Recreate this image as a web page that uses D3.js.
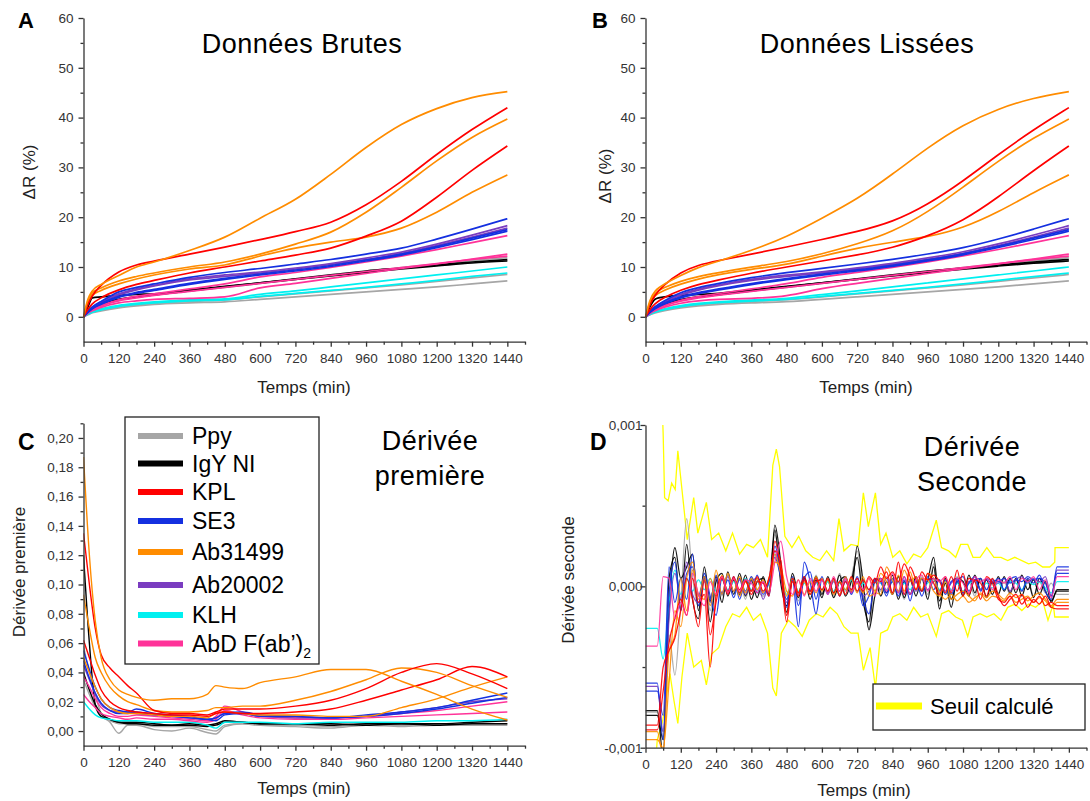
<!DOCTYPE html>
<html><head><meta charset="utf-8">
<script src="https://cdn.jsdelivr.net/npm/d3@7"></script>
<style>
body{margin:0;background:#fff}
svg{display:block}
text{font-family:"Liberation Sans",Arial,sans-serif}
</style>
</head><body>
<svg id="chart" width="1090" height="801"></svg>
<script>
// ---------- categories / legend ----------
const GROUPS = ["Ppy","IgY NI","KPL","SE3","Ab31499","Ab20002","KLH","AbD F(ab’)"];
const GROUP_COLORS = ["#a6a6a6","#000000","#ff0000","#1430e0","#ff8c00","#7a3cc0","#00f0f0","#ff3399"];
const THRESH_LABEL = "Seuil calculé";
const THRESH_COLOR = "#ffff00";

// ---------- tick labels ----------
const X_TICKS = [0,120,240,360,480,600,720,840,960,1080,1200,1320,1440];
const X_MINOR = [60,180,300,420,540,660,780,900,1020,1140,1260,1380,1500];
const AB_Y_TICKS = [0,10,20,30,40,50,60];
const AB_Y_MINOR = [5,15,25,35,45,55];
const C_Y_TICKS = [0,0.02,0.04,0.06,0.08,0.10,0.12,0.14,0.16,0.18,0.20];
const C_Y_MINOR = [0.01,0.03,0.05,0.07,0.09,0.11,0.13,0.15,0.17,0.19,0.21];
const D_Y_TICKS = [-10,0,10];     // in units of 1e-4
const D_Y_MINOR = [-5,5];
const D_UNIT = 1e-4;

// ---------- Panels A & B : ΔR (%) ----------
const T_AB = [0,15,30,60,120,180,240,360,480,600,720,840,960,1080,1200,1320,1440];
const AB_O1 = [0,3.5,5.2,6.5,8.3,10.0,11.0,13.3,16.0,19.8,23.6,28.6,34.0,38.6,41.8,44.0,45.2];
const AB_O2 = [0,3.0,4.8,5.8,7.2,8.1,8.8,10.0,11.0,12.6,14.6,17.0,21.0,26.0,31.3,36.0,39.7];
const AB_O3 = [0,2.8,4.3,5.3,6.6,7.6,8.4,9.6,10.4,12.2,13.8,15.0,16.0,17.8,21.0,25.0,28.5];
const AB_R1 = [0,2.5,4.2,6.3,9.0,10.4,11.2,12.6,14.0,15.5,17.1,19.0,22.5,27.2,32.6,37.6,42.0];
const AB_R2 = [0,1.5,2.6,3.8,5.4,6.5,7.3,8.8,10.0,11.2,12.4,13.8,16.2,19.2,24.0,29.4,34.3];
const AB_B1 = [0,1.2,2.0,3.1,5.0,5.9,6.6,7.9,8.9,9.7,10.6,11.5,12.6,13.8,15.6,17.6,19.7];
const AB_B2 = [0,1.0,1.7,2.7,4.1,4.9,5.5,6.7,7.7,8.6,9.4,10.3,11.4,12.6,14.1,15.8,17.5];
const AB_B3 = [0,0.9,1.6,2.5,3.9,4.7,5.3,6.5,7.5,8.4,9.2,10.1,11.2,12.4,13.9,15.5,17.2];
const AB_P1 = [0,1.1,1.9,3.0,4.6,5.6,6.3,7.6,8.4,9.0,9.8,10.7,11.8,13.0,14.6,16.4,18.3];
const AB_P2 = [0,1.0,1.8,2.9,4.4,5.4,6.2,7.4,8.1,8.8,9.6,10.5,11.5,12.7,14.3,16.0,17.8];
const AB_K1 = [0,0.8,1.4,2.2,3.4,4.1,4.6,5.6,6.6,8.0,8.9,9.9,11.0,12.2,13.5,14.9,16.3];
const AB_K2 = [0,0.7,1.2,1.9,2.8,3.2,3.5,3.7,4.0,5.8,6.7,7.7,8.7,9.7,10.6,11.6,12.6];
const AB_K3 = [0,0.8,1.4,2.2,3.2,3.8,4.3,5.1,5.9,6.7,7.5,8.3,9.1,9.9,10.7,11.5,12.2];
const AB_N1 = [0,1.0,1.8,2.6,3.5,4.0,4.4,5.2,6.0,6.8,7.6,8.4,9.2,9.8,10.4,11.0,11.5];
const AB_N2 = [0,2.0,3.8,4.0,4.3,4.5,4.6,5.4,6.1,6.8,7.5,8.2,8.9,9.6,10.2,10.8,11.2];
const AB_G1 = [0,0.9,1.6,2.4,3.4,4.0,4.4,5.2,5.9,6.7,7.5,8.3,9.1,9.9,10.6,11.3,11.9];
const AB_C1 = [0,0.6,1.0,1.6,2.3,2.7,3.0,3.4,3.6,4.5,5.2,6.0,6.8,7.6,8.4,9.2,10.0];
const AB_C2 = [0,0.5,0.9,1.4,2.1,2.5,2.8,3.2,3.4,4.1,4.7,5.3,5.9,6.6,7.3,8.1,8.8];
const AB_G2 = [0,0.5,0.9,1.4,2.0,2.4,2.7,3.1,3.4,4.0,4.6,5.2,5.8,6.4,7.1,7.8,8.5];
const AB_G3 = [0,0.4,0.8,1.2,1.8,2.2,2.5,2.8,3.0,3.5,4.0,4.5,5.0,5.5,6.0,6.6,7.2];
// [group index, values] in drawing order
const AB_SERIES = [[0,AB_G3],[0,AB_G2],[6,AB_C2],[6,AB_C1],[0,AB_G1],[1,AB_N2],[1,AB_N1],
  [7,AB_K3],[7,AB_K2],[7,AB_K1],[5,AB_P2],[5,AB_P1],[3,AB_B3],[3,AB_B2],[3,AB_B1],
  [4,AB_O3],[2,AB_R2],[4,AB_O2],[2,AB_R1],[4,AB_O1]];

// ---------- Panel C : first derivative ----------
const T_C = [0,20,40,60,90,120,150,180,240,300,360,420,450,480,540,600,720,840,960,1080,1200,1320,1440];
const C_O1 = [0.187,0.12,0.075,0.05,0.035,0.028,0.025,0.023,0.021,0.022,0.022,0.025,0.031,0.030,0.029,0.033,0.037,0.042,0.042,0.034,0.025,0.015,0.0075];
const C_O2 = [0.093,0.07,0.05,0.04,0.03,0.024,0.02,0.018,0.014,0.013,0.013,0.014,0.016,0.016,0.017,0.017,0.021,0.027,0.035,0.043,0.040,0.031,0.023];
const C_O3 = [0.05,0.04,0.03,0.022,0.016,0.013,0.012,0.012,0.011,0.010,0.010,0.009,0.012,0.013,0.012,0.011,0.011,0.010,0.010,0.016,0.022,0.030,0.037];
const C_R1 = [0.135,0.10,0.07,0.052,0.043,0.037,0.031,0.026,0.014,0.012,0.012,0.011,0.013,0.015,0.015,0.015,0.017,0.021,0.029,0.040,0.046,0.039,0.029];
const C_R2 = [0.062,0.05,0.038,0.028,0.02,0.016,0.014,0.013,0.012,0.011,0.011,0.010,0.012,0.013,0.012,0.012,0.013,0.015,0.021,0.028,0.035,0.044,0.037];
const C_B1 = [0.055,0.042,0.03,0.022,0.016,0.014,0.013,0.015,0.012,0.011,0.010,0.008,0.009,0.012,0.013,0.011,0.010,0.009,0.011,0.013,0.016,0.021,0.026];
const C_B2 = [0.048,0.036,0.026,0.019,0.014,0.012,0.012,0.013,0.011,0.010,0.009,0.008,0.007,0.011,0.012,0.010,0.010,0.009,0.010,0.012,0.015,0.019,0.023];
const C_P1 = [0.045,0.035,0.025,0.018,0.014,0.013,0.013,0.012,0.011,0.010,0.009,0.008,0.009,0.012,0.012,0.010,0.009,0.009,0.010,0.013,0.016,0.020,0.022];
const C_K1 = [0.037,0.03,0.022,0.016,0.012,0.010,0.010,0.011,0.010,0.009,0.008,0.007,0.010,0.017,0.013,0.010,0.009,0.009,0.010,0.012,0.014,0.017,0.020];
const C_K2 = [0.025,0.02,0.016,0.012,0.010,0.009,0.008,0.009,0.008,0.008,0.007,0.006,0.008,0.014,0.011,0.009,0.008,0.008,0.009,0.010,0.011,0.012,0.013];
const C_C1 = [0.020,0.015,0.011,0.009,0.008,0.007,0.007,0.007,0.006,0.006,0.006,0.004,0.002,0.006,0.006,0.006,0.005,0.006,0.006,0.006,0.007,0.007,0.008];
const C_N1 = [0.12,0.06,0.018,0.010,0.008,0.006,0.006,0.006,0.005,0.004,0.005,0.004,0.005,0.007,0.006,0.005,0.005,0.005,0.004,0.005,0.005,0.006,0.007];
const C_N2 = [0.04,0.028,0.018,0.012,0.008,0.006,0.005,0.005,0.004,0.004,0.004,0.003,0.004,0.006,0.006,0.005,0.005,0.004,0.005,0.005,0.004,0.005,0.005];
const C_G1 = [0.058,0.04,0.025,0.012,0.006,-0.0015,0.004,0.004,0.001,0.000,0.002,-0.001,-0.002,0.003,0.005,0.004,0.003,0.002,0.004,0.003,0.004,0.004,0.004];
const C_G2 = [0.035,0.025,0.016,0.010,0.007,0.005,0.005,0.005,0.003,0.003,0.003,0.001,0.000,0.004,0.005,0.004,0.004,0.003,0.004,0.004,0.004,0.005,0.005];
const C_SERIES = [[0,C_G2],[0,C_G1],[1,C_N2],[1,C_N1],[6,C_C1],[7,C_K2],[7,C_K1],[5,C_P1],
  [3,C_B2],[3,C_B1],[4,C_O3],[2,C_R2],[4,C_O2],[2,C_R1],[4,C_O1]];

// ---------- Panel D : second derivative (units of 1e-4) ----------
const T_D = [0,20,40,60,80,100,120,140,160,180,200,220,240,260,280,300,320,340,360,380,
  400,420,440,460,480,500,520,540,560,580,600,620,640,660,680,700,720,740,760,780,
  800,820,840,860,880,900,920,940,960,980,1000,1020,1040,1060,1080,1100,1120,1140,1160,1180,
  1200,1220,1240,1260,1280,1300,1320,1340,1360,1380,1400,1420,1440];
const D_G = [-7.8,-7.8,-7.8,-9.0,-3.0,-5.5,-1.0,4.2,0.6,-1.2,
  0.8,-1.5,0.4,-0.6,0.7,-0.3,0.5,-0.8,0.6,-0.2,
  -0.6,0.4,3.2,0.8,-1.8,0.6,-0.9,0.3,-0.5,0.7,
  -0.4,0.3,-0.6,0.8,-0.3,0.5,2.2,-0.5,-2.6,0.4,
  -0.3,0.6,-0.4,0.3,-0.8,0.5,-0.2,0.6,-0.5,1.4,
  -1.2,0.4,-0.3,0.6,-0.5,0.3,-0.6,0.4,-0.2,0.5,
  -0.4,0.3,-0.5,0.4,-0.3,0.5,-0.6,0.3,-0.4,0.2,
  -0.5,-0.5,-0.5];
const D_N = [-8.0,-8.0,-8.0,-9.5,-1.5,2.4,0.5,1.2,2.0,-1.5,
  0.6,-2.2,0.3,0.8,-0.6,0.4,-0.5,0.7,-0.8,0.3,
  0.5,-0.4,3.8,1.5,-1.6,0.4,-0.7,0.5,-0.3,0.6,
  -0.5,0.4,-0.7,0.3,0.6,-0.4,2.5,0.3,-2.7,-0.6,
  0.5,-0.4,0.7,-0.8,0.3,-0.5,0.6,-0.3,0.4,1.8,
  -0.9,0.2,-1.3,0.5,0.3,-0.6,0.7,-0.2,0.4,-0.5,
  0.6,-0.3,0.5,-0.4,0.7,-0.2,0.4,-0.5,0.3,-1.0,
  -0.2,-0.2,-0.2];
const D_N2 = [-7.7,-7.7,-7.7,-10.5,0.5,1.8,-1.5,2.6,-0.8,-2.0,
  1.2,-0.9,0.6,-1.0,0.9,-0.5,0.8,-0.6,0.4,-0.7,
  0.6,-0.5,3.5,0.2,-1.2,0.8,-0.4,0.6,-0.8,0.4,
  -0.7,0.6,-0.4,0.7,-0.6,0.3,1.8,-0.9,-2.2,0.5,
  -0.6,0.3,-0.5,0.6,-0.7,0.4,-0.6,0.5,-0.8,1.2,
  -1.4,0.5,-0.8,0.3,-0.6,0.7,-0.4,0.5,-0.7,0.3,
  -0.5,0.6,-0.4,0.5,-0.6,0.4,-0.7,0.5,-0.3,-0.9,
  -0.3,-0.3,-0.3];
const D_R = [-8.9,-8.9,-8.9,-6.5,-3.5,-2.0,-0.8,-1.8,0.5,-1.0,
  -0.5,-5.0,-0.5,0.6,-0.3,0.5,-0.2,0.4,-0.5,0.3,
  0.2,-0.6,2.8,1.0,-2.2,0.3,-0.6,0.4,-0.3,0.5,
  -0.2,0.5,-0.4,0.3,-0.5,0.6,-0.3,0.4,-0.2,0.5,
  0.3,0.9,-0.4,1.5,-0.5,1.2,0.4,-0.3,0.8,0.2,
  -0.5,0.6,-0.4,1.0,-0.6,0.5,0.3,-0.8,0.6,0.2,
  -0.8,-1.0,-0.6,-1.2,-0.5,-1.3,-0.8,-1.1,-0.6,-1.3,
  -1.4,-1.4,-1.4];
const D_R2 = [-8.6,-8.6,-8.6,-5.0,-4.0,-3.2,-1.5,0.5,-0.8,-2.5,
  0.4,-3.0,-1.0,0.5,-0.5,0.6,-0.4,0.3,-0.3,0.6,
  -0.3,0.5,2.2,1.6,-1.8,0.5,-0.4,0.6,-0.5,0.3,
  0.4,-0.3,0.5,-0.6,0.3,-0.2,0.5,-0.3,0.6,0.2,
  1.2,0.5,0.9,0.3,1.4,0.6,-0.2,0.9,0.4,0.7,
  0.3,-0.4,0.6,-0.3,0.8,-0.5,0.4,0.2,-0.6,0.5,
  -0.6,-1.2,-0.8,-0.5,-1.1,-0.7,-1.0,-0.6,-1.2,-1.0,
  -1.2,-1.2,-1.2];
const D_B = [-6.5,-6.5,-6.5,-8.0,1.2,-1.0,0.5,-0.8,2.0,-1.2,
  0.8,-0.6,-1.8,0.5,-0.4,0.6,-0.8,0.4,-0.3,0.7,
  -0.5,0.3,1.8,0.6,-0.8,0.4,-2.5,1.5,0.3,-1.7,
  0.4,-0.3,0.5,-0.6,0.3,-0.4,0.6,-0.8,-1.7,0.3,
  0.5,-0.4,0.3,-0.6,0.4,-0.9,0.5,-0.3,0.6,-0.2,
  0.4,-0.5,0.3,0.5,-0.4,0.2,0.6,-0.3,0.4,0.2,
  0.5,-0.2,0.4,0.6,-0.3,0.5,0.2,0.7,-0.3,-0.8,
  1.2,1.2,1.2];
const D_B2 = [-6.0,-6.0,-6.0,-9.5,-0.5,1.5,-1.5,0.8,1.2,-0.6,
  0.5,-1.0,0.7,-0.5,0.4,-0.7,0.5,-0.3,0.6,-0.4,
  0.3,-0.6,2.5,0.9,-1.3,0.6,-1.2,0.5,0.9,-0.8,
  0.6,-0.5,0.4,-0.3,0.6,-0.5,0.3,-1.2,-0.6,0.5,
  0.3,-0.6,0.5,-0.4,0.6,-0.5,0.3,-0.6,0.4,0.5,
  -0.3,0.4,-0.5,0.3,0.6,-0.3,0.4,0.5,-0.2,0.4,
  0.3,0.5,0.2,0.4,0.3,0.6,0.4,0.5,0.2,-0.6,
  0.8,0.8,0.8];
const D_O = [-9.5,-9.5,-9.5,-10.0,-6.0,-1.5,-2.5,0.5,1.5,-0.8,
  0.6,-1.2,1.0,-0.5,0.8,-0.3,0.6,-0.4,0.5,-0.2,
  0.4,-0.3,2.0,0.8,-0.6,0.5,-0.4,0.3,-0.5,0.6,
  -0.3,0.4,-0.5,0.3,-0.2,0.5,-0.4,0.6,-0.6,-0.4,
  0.8,0.3,-0.5,0.7,-0.3,0.9,-0.2,0.5,0.4,-0.3,
  -0.6,0.3,-0.8,-0.5,-0.3,-0.6,-0.9,-0.4,-0.7,-0.3,
  -0.5,-0.8,-0.4,-0.7,-0.5,-0.9,-0.6,-0.4,-0.8,-1.2,
  -0.8,-0.8,-0.8];
const D_O2 = [-9.0,-9.0,-9.0,-10.5,-4.0,-3.0,0.5,-1.5,1.0,-0.5,
  -0.8,0.5,-0.6,0.7,-0.4,0.5,-0.6,0.3,-0.3,0.5,
  -0.4,0.5,1.5,1.2,-0.3,-0.6,0.4,-0.5,0.3,-0.4,
  0.5,-0.3,0.4,-0.5,0.6,-0.3,0.2,-0.4,0.5,-0.3,
  -0.5,1.2,0.4,-0.3,1.0,0.3,0.6,-0.2,0.8,0.5,
  -0.4,-0.8,-0.5,-0.9,-0.6,-1.0,-0.7,-0.5,-0.9,-0.6,
  -0.7,-0.9,-0.6,-1.0,-0.8,-0.6,-1.0,-0.7,-0.9,-1.3,
  -1.0,-1.0,-1.0];
const D_P = [-6.2,-6.2,-6.2,-9.0,-2.0,0.8,-0.8,1.5,-0.5,-1.0,
  0.3,-0.8,0.5,-0.4,0.6,-0.3,0.4,-0.5,0.3,0.5,
  -0.8,0.4,2.2,0.6,-1.0,0.3,-0.5,0.4,-0.3,0.2,
  0.5,-0.4,0.3,-0.5,0.4,-0.2,0.5,-0.6,-0.3,0.4,
  -0.2,0.5,-0.4,0.3,-0.5,0.4,-0.3,0.5,-0.2,0.3,
  0.4,-0.3,0.2,0.5,-0.4,0.3,0.4,-0.2,0.5,0.3,
  0.2,0.5,-0.3,0.4,0.6,0.2,0.5,0.3,0.6,-0.6,
  1.0,1.0,1.0];
const D_C = [-2.6,-2.6,-2.6,-4.5,-1.0,1.0,-0.5,0.5,-0.3,0.4,
  -0.2,0.5,-0.3,0.4,-0.2,0.3,-0.4,0.5,-0.2,0.3,
  -0.3,0.2,2.0,0.8,-0.5,0.4,-0.3,0.2,-0.2,0.3,
  -0.2,0.3,-0.3,0.2,-0.2,0.4,-0.3,0.2,-0.2,0.3,
  0.2,-0.2,0.3,-0.3,0.2,-0.2,0.3,-0.2,0.2,0.4,
  -0.2,0.3,-0.2,0.2,-0.3,0.2,0.3,-0.2,0.2,-0.1,
  0.2,-0.2,0.3,0.2,-0.2,0.3,0.1,0.3,-0.1,-0.4,
  0.3,0.3,0.3];
const D_K = [-3.7,-3.7,-3.7,0.6,0.5,-2.0,-1.0,-1.8,0.8,-0.5,
  -1.2,0.3,-0.5,0.6,-0.4,0.5,-0.3,0.4,0.2,-0.4,
  0.3,-0.4,1.5,2.8,0.6,-0.5,0.4,-0.6,0.5,-0.3,
  0.4,-0.5,0.6,-0.3,0.5,-0.4,0.3,-0.2,0.5,-0.6,
  0.5,-0.3,0.8,-0.4,0.6,-0.5,0.4,0.7,-0.3,0.5,
  0.3,0.6,-0.3,0.5,0.2,-0.4,0.6,0.3,0.5,-0.2,
  0.4,0.2,0.6,-0.2,0.5,0.3,0.6,-0.2,0.4,-0.7,
  0.6,0.6,0.6];
const D_SERIES = [[0,D_G],[1,D_N2],[1,D_N],[6,D_C],[5,D_P],[3,D_B2],[3,D_B],[4,D_O2],[4,D_O],
  [2,D_R2],[2,D_R],[7,D_K]];
// threshold envelope: [time, value]
const D_YEL_UP = [[55,12],[60,9.5],[65,5.5],[77,5.3],[89,6.4],[101,6],[110,8.4],[124,6],[142,2.9],[164,5.5],[178,3.3],[207,5.2],[225,2.9],[249,3.3],[273,2.2],[296,3.3],[320,2],[344,2.6],[367,2.4],[391,2.9],[415,1.8],[433,7.5],[445,8.5],[456,7.4],[474,3.1],[498,2.4],[521,3.1],[545,2.2],[569,1.8],[593,1.6],[616,2.2],[640,1.6],[658,4.2],[675,2.2],[699,2.6],[723,2.5],[741,5.8],[758,3.7],[782,5.8],[800,2.6],[818,3.3],[841,1.8],[865,2.2],[889,1.4],[912,2],[936,1.8],[960,2.4],[989,4.1],[1007,2.4],[1031,2.2],[1055,1.8],[1072,2.6],[1096,2.6],[1114,1.8],[1138,1.8],[1161,2.4],[1185,1.8],[1209,1.8],[1232,1.6],[1256,1.8],[1280,1.6],[1303,1.4],[1327,1.5],[1351,1.2],[1375,1.2],[1392,1.5],[1393,2.4],[1440,2.4]];
const D_YEL_LO = [[36,-10.5],[40,-9.5],[59,-8.3],[83,-5.4],[97,-7.1],[110,-8.5],[124,-5.6],[142,-2.9],[164,-5],[190,-4.6],[207,-6.1],[225,-4.2],[249,-3.8],[273,-2.5],[296,-1.7],[320,-1.9],[344,-1.3],[367,-2.1],[391,-1.7],[415,-2.9],[433,-6.3],[445,-6.8],[462,-2.9],[486,-2.1],[510,-2.5],[533,-3.1],[557,-2.1],[581,-1.7],[604,-1.9],[628,-1.3],[652,-1.7],[675,-2.5],[699,-2.9],[723,-2.9],[741,-5.2],[764,-3.8],[782,-6.3],[800,-2.9],[823,-2.7],[841,-1.9],[865,-1.7],[889,-2.1],[912,-1.3],[936,-1.9],[960,-1.7],[989,-3.1],[1007,-1.7],[1031,-1.5],[1055,-1.9],[1078,-2.1],[1096,-3.1],[1114,-1.9],[1138,-1.7],[1161,-1.9],[1185,-1.7],[1209,-2.1],[1232,-1.3],[1256,-1.1],[1280,-1.5],[1303,-1.1],[1327,-1.3],[1351,-0.9],[1369,-2.1],[1387,-1.1],[1392,-1.9],[1440,-1.9]];

// =================== drawing ===================
const svg = d3.select("#chart");
const AX = "#333";
const FONT = '"Liberation Sans",Arial,sans-serif';

function styleAxis(g, fs) {
  g.selectAll(".domain").attr("stroke", AX).attr("stroke-width", 1.3);
  g.selectAll(".tick line").attr("stroke", AX).attr("stroke-width", 1.3);
  g.selectAll(".tick text").attr("fill", "#333").attr("font-size", fs).attr("font-family", FONT);
}
function axes(x, y, yTicks, yMinor, yFmt, yPad) {
  const y0 = y.range()[0], x0 = x.range()[0];
  const gx = svg.append("g").attr("transform", `translate(0,${y0})`)
    .call(d3.axisBottom(x).tickValues(X_TICKS).tickSize(5).tickSizeOuter(0).tickPadding(7).tickFormat(d => d));
  styleAxis(gx, "13.5px");
  const gxm = svg.append("g").attr("transform", `translate(0,${y0})`)
    .call(d3.axisBottom(x).tickValues(X_MINOR).tickSize(3).tickSizeOuter(0).tickFormat(""));
  styleAxis(gxm, "13.5px"); gxm.select(".domain").remove();
  const gy = svg.append("g").attr("transform", `translate(${x0},0)`)
    .call(d3.axisLeft(y).tickValues(yTicks).tickSize(5).tickSizeOuter(0).tickPadding(yPad).tickFormat(yFmt));
  styleAxis(gy, "13.5px");
  const gym = svg.append("g").attr("transform", `translate(${x0},0)`)
    .call(d3.axisLeft(y).tickValues(yMinor).tickSize(3).tickSizeOuter(0).tickFormat(""));
  styleAxis(gym, "13.5px"); gym.select(".domain").remove();
}
function clip(id, x, y) {
  svg.append("clipPath").attr("id", id).append("rect")
    .attr("x", x.range()[0]).attr("y", y.range()[1])
    .attr("width", x.range()[1] - x.range()[0]).attr("height", y.range()[0] - y.range()[1]);
}
function txt(x, y, s, size, opts = {}) {
  return svg.append("text").attr("x", x).attr("y", y).text(s)
    .attr("font-size", size).attr("fill", opts.fill || "#000")
    .attr("font-weight", opts.bold ? "bold" : null)
    .attr("text-anchor", opts.anchor || "middle")
    .attr("letter-spacing", opts.ls || null);
}
function yLabel(x, y, s) {
  svg.append("text").attr("transform", `translate(${x},${y}) rotate(-90)`)
    .attr("text-anchor", "middle").attr("dy", "0.35em").attr("font-size", "17px").attr("fill", "#222").text(s);
}

// scales
const xA = d3.scaleLinear([0,1500],[83.5,525]);
const yA = d3.scaleLinear([-5,60],[341.7,18]);
const xB = d3.scaleLinear([0,1500],[645.5,1086.5]);
const yB = d3.scaleLinear([-5,60],[341.7,18]);
const xC = d3.scaleLinear([0,1500],[83.5,525]);
const yC = d3.scaleLinear([-0.01,0.21],[745.7,423.3]);
const xD = d3.scaleLinear([0,1500],[645.5,1086.5]);
const yD = d3.scaleLinear([-10,10],[747.7,425]);

clip("clA", xA, yA); clip("clB", xB, yB); clip("clC", xC, yC); clip("clD", xD, yD);

// ---- Panel A & B lines
function drawAB(x, y, clipId, curve) {
  const g = svg.append("g").attr("clip-path", `url(#${clipId})`);
  const line = d3.line().x((d, i) => x(T_AB[i])).y(d => y(d)).curve(curve);
  AB_SERIES.forEach(([gi, vals]) => {
    g.append("path").attr("d", line(vals)).attr("fill", "none")
      .attr("stroke", GROUP_COLORS[gi]).attr("stroke-width", 1.7).attr("stroke-linejoin", "round");
  });
}
drawAB(xA, yA, "clA", d3.curveMonotoneX);
drawAB(xB, yB, "clB", d3.curveBasis);

// ---- Panel C lines
(function () {
  const g = svg.append("g").attr("clip-path", "url(#clC)");
  const line = d3.line().x((d, i) => xC(T_C[i])).y(d => yC(d)).curve(d3.curveMonotoneX);
  C_SERIES.forEach(([gi, vals]) => {
    g.append("path").attr("d", line(vals)).attr("fill", "none")
      .attr("stroke", GROUP_COLORS[gi]).attr("stroke-width", 1.4);
  });
})();

// ---- Panel D lines
(function () {
  const g = svg.append("g").attr("clip-path", "url(#clD)");
  const yl = d3.line().x(d => xD(d[0])).y(d => yD(d[1]));
  [D_YEL_UP, D_YEL_LO].forEach(arr => {
    g.append("path").attr("d", yl(arr)).attr("fill", "none")
      .attr("stroke", THRESH_COLOR).attr("stroke-width", 1.3);
  });
  const line = d3.line().x((d, i) => xD(T_D[i])).y(d => yD(d)).curve(d3.curveMonotoneX);
  D_SERIES.forEach(([gi, vals]) => {
    g.append("path").attr("d", line(vals)).attr("fill", "none")
      .attr("stroke", GROUP_COLORS[gi]).attr("stroke-width", 1.25).attr("stroke-opacity", 0.9);
  });
})();

// ---- axes
const fmtInt = d => d;
axes(xA, yA, AB_Y_TICKS, AB_Y_MINOR, fmtInt, 5);
axes(xB, yB, AB_Y_TICKS, AB_Y_MINOR, fmtInt, 5);
axes(xC, yC, C_Y_TICKS, C_Y_MINOR, d => d.toFixed(2).replace(".", ","), 5);
axes(xD, yD, D_Y_TICKS, D_Y_MINOR, d => (d * D_UNIT).toFixed(3).replace(".", ","), -2);

// ---- axis titles
txt(304, 393, "Temps (min)", "17px", {fill: "#222"});
txt(866, 393, "Temps (min)", "17px", {fill: "#222"});
txt(304, 794, "Temps (min)", "17px", {fill: "#222"});
txt(864, 796, "Temps (min)", "17px", {fill: "#222"});
yLabel(29.5, 172, "ΔR (%)");
yLabel(605, 176, "ΔR (%)");
yLabel(19, 572, "Dérivée première");
yLabel(567.6, 580, "Dérivée seconde");

// ---- panel letters & titles
txt(18, 28, "A", "22px", {bold: true, anchor: "start"});
txt(592, 28, "B", "22px", {bold: true, anchor: "start"});
txt(18, 450, "C", "23px", {bold: true, anchor: "start"});
txt(590, 450, "D", "23px", {bold: true, anchor: "start"});
txt(302, 53, "Données Brutes", "27px", {ls: "0.5px"});
txt(867, 53, "Données Lissées", "27px", {ls: "0.5px"});
txt(430, 450, "Dérivée", "27px", {ls: "0.5px"});
txt(430, 485, "première", "27px", {ls: "0.5px"});
txt(972, 456, "Dérivée", "27px", {ls: "0.5px"});
txt(972, 491, "Seconde", "27px", {ls: "0.5px"});

// ---- legend C
(function () {
  const LEG_Y = [436, 463.5, 492, 521, 552, 585, 615, 643.5];
  svg.append("rect").attr("x", 125).attr("y", 417).attr("width", 194).attr("height", 247)
    .attr("fill", "#fff").attr("stroke", "#222").attr("stroke-width", 1.3);
  GROUPS.forEach((name, i) => {
    svg.append("line").attr("x1", 138).attr("x2", 183).attr("y1", LEG_Y[i]).attr("y2", LEG_Y[i])
      .attr("stroke", GROUP_COLORS[i]).attr("stroke-width", 6);
    const t = svg.append("text").attr("x", 192).attr("y", LEG_Y[i]).attr("dy", "0.36em")
      .attr("font-size", "23px").attr("fill", "#000").text(name);
    if (i === 7) t.append("tspan").attr("font-size", "14px").attr("dy", "6").text("2");
  });
})();

// ---- legend D
(function () {
  svg.append("rect").attr("x", 873).attr("y", 684).attr("width", 212).attr("height", 46)
    .attr("fill", "#fff").attr("stroke", "#222").attr("stroke-width", 1.3);
  svg.append("line").attr("x1", 876).attr("x2", 922).attr("y1", 706).attr("y2", 706)
    .attr("stroke", THRESH_COLOR).attr("stroke-width", 7);
  svg.append("text").attr("x", 930).attr("y", 706).attr("dy", "0.36em")
    .attr("font-size", "22px").attr("fill", "#000").text(THRESH_LABEL);
})();
</script>
</body></html>
